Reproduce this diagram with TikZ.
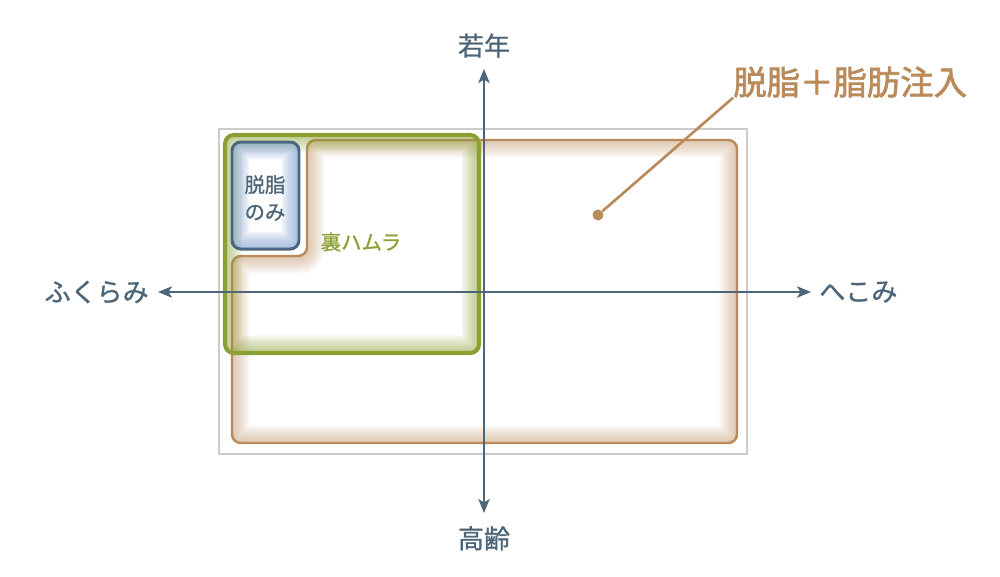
\documentclass[tikz,border=0pt]{standalone}
\usepackage{fontspec}
\setmainfont{Noto Sans CJK JP}[UprightFeatures={FakeBold=1}]
\newfontfamily\headfont{Noto Sans CJK JP}[UprightFeatures={FakeBold=2}]
\usetikzlibrary{arrows.meta,positioning}
\definecolor{AxisColor}{RGB}{76,101,121}
\definecolor{FatColor}{RGB}{185,138,90}
\definecolor{HamraColor}{RGB}{138,160,50}
\definecolor{OnlyColor}{RGB}{74,102,128}
\definecolor{OnlyGlow}{RGB}{130,162,208}
\definecolor{FrameColor}{RGB}{204,204,204}

\begin{document}
\begin{tikzpicture}[x=0.02cm, y=-0.02cm,
    axis/.style={AxisColor, line width=0.9pt,
        {Stealth[length=8pt, width=6.5pt, inset=2pt]}-{Stealth[length=8pt, width=6.5pt, inset=2pt]}},
    axislabel/.style={text=AxisColor, inner sep=0, font=\fontsize{14.8}{16}\selectfont},
    boxlabel/.style={inner sep=0, align=center, font=\fontsize{11.6}{15.5}\selectfont},
    zone/.style={rounded corners=5pt},
    glow/.style={zone, draw opacity=0.06}]

    \useasboundingbox (0,0) rectangle (1000,576);
    \draw[FrameColor, line width=0.6pt] (219,129) rectangle (747,454);

    % fat injection zone
    \begin{scope}
        \clip[zone] (500,140) -- (737,140) -- (737,443) -- (232,443) -- (232,256) -- (307,256) -- (307,140) -- cycle;
        \foreach \w in {2,4,...,20}
        \draw[glow, FatColor, line width=\w pt]
            (500,140) -- (737,140) -- (737,443) -- (232,443) -- (232,256) -- (307,256) -- (307,140) -- cycle;
    \end{scope}
    \draw[zone, FatColor, line width=1.4pt]
        (500,140) -- (737,140) -- (737,443) -- (232,443) -- (232,256) -- (307,256) -- (307,140) -- cycle;

    % ura hamra zone
    \begin{scope}
        \clip[zone] (225,135) rectangle (479,353);
        \foreach \w in {2,4,...,20}
        \draw[glow, HamraColor, draw opacity=0.07, line width=\w pt] (225,135) rectangle (479,353);
    \end{scope}
    \draw[zone, HamraColor, line width=2.3pt] (225,135) rectangle (479,353);

    % fat removal only
    \begin{scope}
        \clip[zone] (232,142) rectangle (299,249);
        \foreach \w in {2,4,...,20}
        \draw[glow, OnlyGlow, draw opacity=0.1, line width=\w pt] (232,142) rectangle (299,249);
    \end{scope}
    \draw[zone, OnlyColor, line width=1.7pt] (232,142) rectangle (299,249);

    \node[boxlabel, text=AxisColor] (only) at (265,198) {脱脂\\のみ};
    \node[boxlabel, text=HamraColor] (hamra) at (361,242) {裏ハムラ};

    % axes
    \coordinate (top) at (484,69);
    \coordinate (bottom) at (484,513);
    \coordinate (left) at (158,292);
    \coordinate (right) at (811,292);
    \foreach \from/\to in {top/bottom, left/right}
    \draw[axis] (\from) -- (\to);

    \node[axislabel, above=2.2mm of top] (young) {若年};
    \node[axislabel, below=2.6mm of bottom] (old) {高齢};
    \node[axislabel, left=1.8mm of left] (bulge) {ふくらみ};
    \node[axislabel, right=1.6mm of right] (dent) {へこみ};

    % callout
    \node[circle, fill=FatColor, inner sep=0, minimum size=0.22cm] (dot) at (598,215) {};
    \node[anchor=west, inner sep=0, text=FatColor, font=\fontsize{19}{20}\selectfont\headfont]
        (inject) at (733,82) {脱脂＋脂肪注入};
    \draw[FatColor, line width=1.5pt] (dot) -- (inject.south west);

\end{tikzpicture}
\end{document}
